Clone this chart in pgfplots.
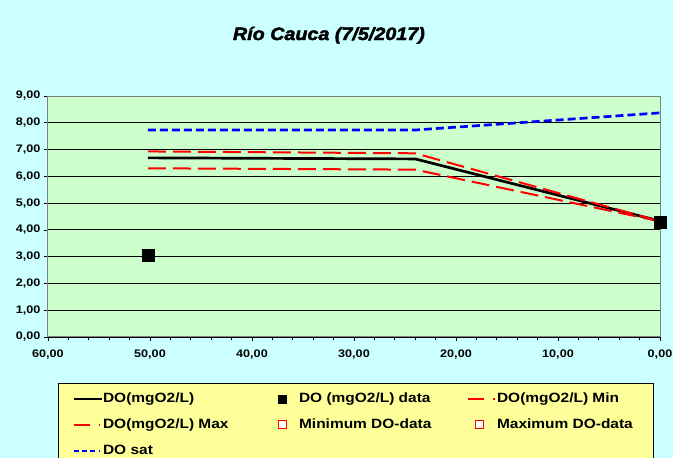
\documentclass[border=0pt]{standalone}
\usepackage{fontspec}
\setmainfont{Liberation Sans}[FakeStretch=1.15]
\newfontfamily\titlefont{Liberation Sans}[FakeStretch=1.1, FakeBold=2.5]
\usepackage{pgfplots}
\pgfplotsset{compat=1.18}
\definecolor{bgc}{HTML}{CCFFFF}
\definecolor{plotc}{HTML}{CCFFCC}
\definecolor{legc}{HTML}{FFFF99}
\definecolor{redc}{HTML}{FF0000}
\definecolor{bluec}{HTML}{0000FF}
\pgfplotsset{
  linelegend/.style={legend image code/.code={\draw[##1] (0bp,0bp) -- (28bp,0bp);}},
  redlegend/.style={legend image code/.code={\draw[redc, line width=2bp, dash pattern=on 16bp off 9bp on 1.5bp off 10bp] (0bp,0bp) -- (28bp,0bp);}},
  bluelegend/.style={legend image code/.code={\draw[bluec, line width=2.7bp, dash pattern=on 5bp off 3bp on 5bp off 3bp on 5bp off 4bp on 1.5bp off 5bp] (0bp,0bp) -- (28bp,0bp);}},
  blacksqlegend/.style={legend image code/.code={\path[draw=none] (0bp,0bp) -- (28bp,0bp);
    \path[draw=none, mark=square*, mark size=4bp, mark options={draw=black, fill=black, solid}] plot coordinates {(11bp,0bp)};}},
  redsqlegend/.style={legend image code/.code={\path[draw=none] (0bp,0bp) -- (28bp,0bp);
    \path[draw=none, mark=square*, mark size=4bp, mark options={draw=redc, fill=white, line width=0.9bp, solid}] plot coordinates {(11bp,0bp)};}},
}
\begin{document}
\begin{tikzpicture}[x=1bp,y=1bp]
\fill[bgc] (0,0) rectangle (673,458);
\begin{axis}[
  at={(48bp,121bp)}, anchor=south west,
  scale only axis, width=612bp, height=241bp,
  xmin=0, xmax=60, x dir=reverse, ymin=0, ymax=9,
  xtick={0,10,...,60}, ytick={0,1,...,9}, minor x tick num=4,
  xtick pos=bottom, ytick pos=left,
  tick align=outside, major tick length=4bp, minor tick length=3bp,
  ymajorgrids, major grid style={black, line width=0.8bp},
  axis background/.style={fill=plotc},
  axis line style={draw=gray, line width=1bp},
  every tick/.style={black, line width=0.7bp},
  tick label style={font=\fontsize{11}{13}\selectfont\bfseries},
  xticklabel style={yshift=-5bp},
  /pgf/number format/fixed, /pgf/number format/fixed zerofill,
  /pgf/number format/precision=2, /pgf/number format/use comma,
  /pgf/number format/assume math mode=true,
  title={Río Cauca (7/5/2017)},
  title style={at={(axis description cs:0.459,1.2075)}, anchor=base,
    font=\fontsize{18}{21}\selectfont\titlefont\bfseries\itshape},
  legend columns=3,
  legend cell align=left,
  legend style={at={(axis description cs:0.0163,-0.191)}, anchor=north west,
    fill=legc, draw=black, line width=0.8bp, inner xsep=14bp, inner ysep=9bp,
    font=\fontsize{13.5}{15}\selectfont\bfseries, row sep=13bp,
    /tikz/every even column/.append style={column sep=26bp},
    nodes={inner sep=0pt, text height=10bp, text depth=3bp}},
]
% DO model
\addplot[black, line width=2.7bp, linelegend]
  coordinates {(50.2,6.69) (24,6.65) (0,4.33)};
\addlegendentry{\makebox[142bp][l]{DO(mgO2/L)}}
% DO data
\addplot[only marks, mark=square*, mark size=6bp, black, blacksqlegend]
  coordinates {(50.2,3.04) (0,4.30)};
\addlegendentry{\makebox[142bp][l]{DO (mgO2/L) data}}
% Min
\addplot[redc, line width=2bp, dash pattern=on 18bp off 7bp, redlegend]
  coordinates {(50.2,6.30) (24,6.25) (0,4.32)};
\addlegendentry{\makebox[142bp][l]{DO(mgO2/L) Min}}
% Max
\addplot[redc, line width=2bp, dash pattern=on 18bp off 7bp, redlegend]
  coordinates {(50.2,6.93) (24,6.86) (0,4.32)};
\addlegendentry{\makebox[142bp][l]{DO(mgO2/L) Max}}
% Minimum / Maximum DO-data (empty series)
\addlegendimage{redsqlegend}
\addlegendentry{\makebox[142bp][l]{Minimum DO-data}}
\addlegendimage{redsqlegend}
\addlegendentry{\makebox[142bp][l]{Maximum DO-data}}
% DO sat
\addplot[bluec, line width=2.7bp, dash pattern=on 8bp off 4bp, bluelegend]
  coordinates {(50.2,7.73) (24,7.73) (0,8.37)};
\addlegendentry{\makebox[142bp][l]{DO sat}}
% data on top
\addplot[only marks, mark=square*, mark size=6bp, black, forget plot]
  coordinates {(50.2,3.04) (0,4.30)};
\end{axis}
\pgfresetboundingbox
\useasboundingbox (0,0) rectangle (673,458);
\end{tikzpicture}
\end{document}
